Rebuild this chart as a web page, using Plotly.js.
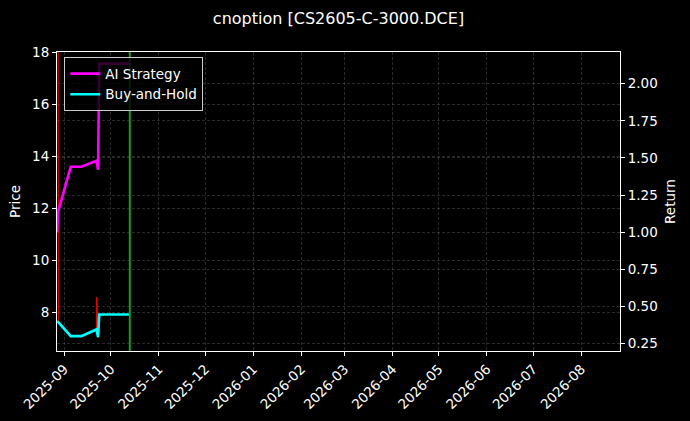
<!DOCTYPE html>
<html>
<head>
<meta charset="utf-8">
<script src="https://cdn.plot.ly/plotly-3.0.1.min.js"></script>
<style>
  html, body { margin: 0; padding: 0; background: #000; }
  #chart { width: 690px; height: 421px; }
</style>
</head>
<body>
<div id="chart"></div>
<script>
// returns (right axis)
const retDates = ['2025-08-27 08:00', '2025-08-28 00:00', '2025-09-05 02:00', '2025-09-12 00:00',
                  '2025-09-21 16:00', '2025-09-22 18:00', '2025-09-23 12:00', '2025-10-13 06:00'];
const aiStrategy = [1.00, 1.14, 1.44, 1.44, 1.48, 1.42, 2.135, 2.135];
const buyHold    = [0.40, 0.395, 0.30, 0.30, 0.345, 0.293, 0.446, 0.446];

// option price (left axis)
const priceDates = ['2025-08-27 20:00', '2025-08-28 02:00', '2025-09-05 02:00', '2025-09-12 00:00',
                    '2025-09-21 16:00', '2025-09-21 22:00', '2025-09-22 18:00', '2025-09-23 12:00', '2025-10-13 06:00'];
const price = [25, 7.65, 7.10, 7.10, 7.35, 8.59, 7.06, 7.93, 7.93];

const markerDate = '2025-10-13 06:00';

const FONT = 'DejaVu Sans, sans-serif';
const GRID = 'rgba(255,255,255,0.16)';

const traces = [
  {
    x: priceDates, y: price, type: 'scatter', mode: 'lines', name: 'Price',
    line: { color: '#ff0000', width: 1 }, showlegend: false, yaxis: 'y', hoverinfo: 'skip',
  },
  {
    x: retDates, y: aiStrategy, type: 'scatter', mode: 'lines', name: 'AI Strategy',
    line: { color: '#ff00ff', width: 2.6 }, yaxis: 'y2',
  },
  {
    x: retDates, y: buyHold, type: 'scatter', mode: 'lines', name: 'Buy-and-Hold',
    line: { color: '#00ffff', width: 2.6 }, yaxis: 'y2',
  },
];

const layout = {
  width: 690, height: 421,
  paper_bgcolor: '#000', plot_bgcolor: '#000',
  font: { family: FONT, size: 13.5, color: '#fff' },
  margin: { l: 57, r: 70, t: 52, b: 70 },
  title: {
    text: 'cnoption [CS2605-C-3000.DCE]',
    font: { size: 16, color: '#fff', family: FONT },
    xref: 'paper', x: 0.5, xanchor: 'center',
    yref: 'container', y: 0.957, yanchor: 'middle',
  },
  xaxis: {
    type: 'date',
    range: ['2025-08-27 05:00', '2026-08-26 00:00'],
    tick0: '2025-09-01', dtick: 'M1', tickformat: '%Y-%m',
    tickangle: -45, ticks: 'outside', ticklen: 4, tickcolor: '#fff',
    showgrid: true, gridcolor: GRID, griddash: '3px,2px', gridwidth: 0.6,
    showline: true, linecolor: '#fff', linewidth: 1, mirror: true,
    zeroline: false, tickfont: { size: 13.5, color: '#fff' },
  },
  yaxis: {
    range: [6.53, 18], tick0: 8, dtick: 2,
    ticks: 'outside', ticklen: 4, tickcolor: '#fff',
    showgrid: true, gridcolor: GRID, griddash: '3px,2px', gridwidth: 0.6,
    showline: true, linecolor: '#fff', linewidth: 1, zeroline: false,
    title: { text: 'Price', font: { size: 13.5, color: '#fff' }, standoff: 8 },
    tickfont: { size: 13.5, color: '#fff' },
  },
  yaxis2: {
    overlaying: 'y', side: 'right',
    range: [0.200, 2.213], tick0: 0.25, dtick: 0.25, tickformat: '.2f',
    ticks: 'outside', ticklen: 4, tickcolor: '#fff',
    showgrid: true, gridcolor: GRID, griddash: '3px,2px', gridwidth: 0.6,
    showline: true, linecolor: '#fff', linewidth: 1, zeroline: false,
    title: { text: 'Return', font: { size: 13.5, color: '#fff' }, standoff: 8 },
    tickfont: { size: 13.5, color: '#fff' },
  },
  shapes: [{
    type: 'line', xref: 'x', yref: 'paper', x0: markerDate, x1: markerDate, y0: 0, y1: 1,
    line: { color: '#1f9a1f', width: 2 },
  }],
  legend: {
    x: 0.013, y: 0.982, xanchor: 'left', yanchor: 'top',
    bgcolor: 'rgba(0,0,0,0.8)', bordercolor: '#cccccc', borderwidth: 1,
    font: { size: 13.5, color: '#fff', family: FONT },
    tracegroupgap: 2,
  },
  showlegend: true,
};

Plotly.newPlot('chart', traces, layout, { displayModeBar: false, responsive: false });
</script>
</body>
</html>
